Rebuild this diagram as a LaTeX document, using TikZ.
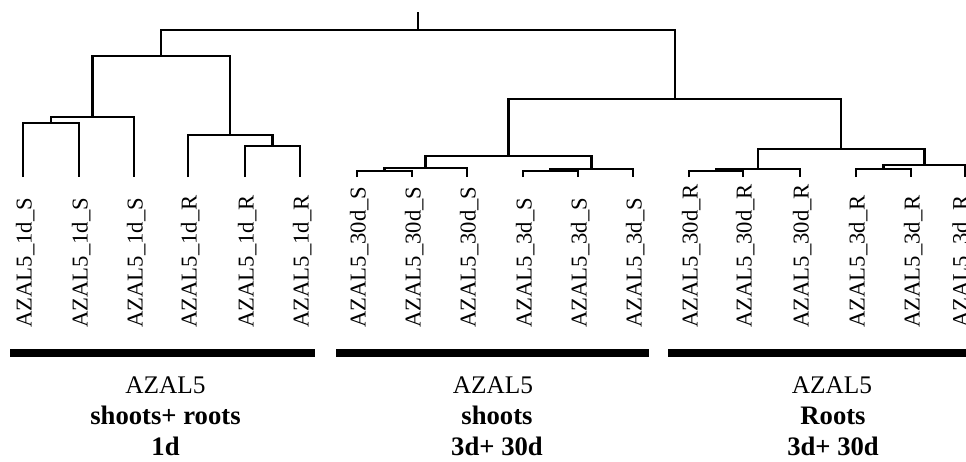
\documentclass[tikz,border=0pt]{standalone}
\usepackage{fontspec}
\setmainfont{Liberation Serif}
\begin{document}
\begin{tikzpicture}[x=0.75pt,y=-0.75pt,
  branch/.style={line width=2pt, line join=miter},
  leaflabel/.style={rotate=90, anchor=base west, inner sep=0pt,
                    font=\fontsize{17}{20}\selectfont},
  groupbar/.style={line width=6pt},
  grouptext/.style={anchor=base, inner sep=0pt, font=\fontsize{19}{23}\selectfont},
  groupbold/.style={anchor=base, inner sep=0pt, font=\fontsize{20}{24}\selectfont\bfseries}]
\useasboundingbox (0,0) rectangle (966,461);
\clip (0,0) rectangle (966,461);

% ---- leaf tips (bottom ends of the dendrogram) ----
\coordinate (a1) at (23,177);  \coordinate (a2) at (79,177);
\coordinate (a3) at (134,177); \coordinate (a4) at (188,177);
\coordinate (a5) at (245,177); \coordinate (a6) at (300,177);
\coordinate (b1) at (357,177); \coordinate (b2) at (412,177);
\coordinate (b3) at (467,177); \coordinate (b4) at (523,177);
\coordinate (b5) at (578,177); \coordinate (b6) at (633,177);
\coordinate (c1) at (689,177); \coordinate (c2) at (743,177);
\coordinate (c3) at (800,177); \coordinate (c4) at (856,177);
\coordinate (c5) at (911,177); \coordinate (c6) at (965,177);

% ---- merge points ----
\coordinate (a12)  at (51,123);
\coordinate (a123) at (92.5,117);
\coordinate (a56)  at (272.5,146);
\coordinate (a456) at (230,135);
\coordinate (aall) at (161,56);
\coordinate (b12)  at (384.5,171);
\coordinate (b123) at (425.7,168);
\coordinate (b45)  at (550.5,171);
\coordinate (b456) at (591.7,169);
\coordinate (ball) at (508.7,156);
\coordinate (c12)  at (716,171);
\coordinate (c123) at (758,169);
\coordinate (c45)  at (883.5,169);
\coordinate (c456) at (924.2,165);
\coordinate (call) at (841.1,149);
\coordinate (bc)   at (675,99);
\coordinate (root) at (418,30);
\coordinate (stem) at (418,12);

% ---- dendrogram ----
\draw[branch] (a1) |- (a12) -| (a2);
\draw[branch] (a12) |- (a123) -| (a3);
\draw[branch] (a5) |- (a56) -| (a6);
\draw[branch] (a4) |- (a456) -| (a56);
\draw[branch] (a123) |- (aall) -| (a456);

\draw[branch] (b1) |- (b12) -| (b2);
\draw[branch] (b12) |- (b123) -| (b3);
\draw[branch] (b4) |- (b45) -| (b5);
\draw[branch] (b45) |- (b456) -| (b6);
\draw[branch] (b123) |- (ball) -| (b456);

\draw[branch] (c1) |- (c12) -| (c2);
\draw[branch] (c12) |- (c123) -| (c3);
\draw[branch] (c4) |- (c45) -| (c5);
\draw[branch] (c45) |- (c456) -| (c6);
\draw[branch] (c123) |- (call) -| (c456);

\draw[branch] (ball) |- (bc) -| (call);
\draw[branch] (aall) |- (root) -| (bc);
\draw[branch] (root) -- (stem);

% ---- sample labels ----
\node[leaflabel] (ta1) at (31.5,328) {AZAL5\_1d\_S};
\node[leaflabel] (ta2) at (87.5,328) {AZAL5\_1d\_S};
\node[leaflabel] (ta3) at (142.5,328) {AZAL5\_1d\_S};
\node[leaflabel] (ta4) at (196.5,328) {AZAL5\_1d\_R};
\node[leaflabel] (ta5) at (253.5,328) {AZAL5\_1d\_R};
\node[leaflabel] (ta6) at (308.5,328) {AZAL5\_1d\_R};
\node[leaflabel] (tb1) at (365.5,328) {AZAL5\_30d\_S};
\node[leaflabel] (tb2) at (420.5,328) {AZAL5\_30d\_S};
\node[leaflabel] (tb3) at (475.5,328) {AZAL5\_30d\_S};
\node[leaflabel] (tb4) at (531.5,328) {AZAL5\_3d\_S};
\node[leaflabel] (tb5) at (586.5,328) {AZAL5\_3d\_S};
\node[leaflabel] (tb6) at (641.5,328) {AZAL5\_3d\_S};
\node[leaflabel] (tc1) at (697.5,328) {AZAL5\_30d\_R};
\node[leaflabel] (tc2) at (751.5,328) {AZAL5\_30d\_R};
\node[leaflabel] (tc3) at (808.5,328) {AZAL5\_30d\_R};
\node[leaflabel] (tc4) at (864.5,328) {AZAL5\_3d\_R};
\node[leaflabel] (tc5) at (919.5,328) {AZAL5\_3d\_R};
\node[leaflabel] (tc6) at (968,328) {AZAL5\_3d\_R};

% ---- group bars ----
\coordinate (g1l) at (10,353);  \coordinate (g1r) at (315,353);
\coordinate (g2l) at (336,353); \coordinate (g2r) at (649,353);
\coordinate (g3l) at (668,353); \coordinate (g3r) at (970,353);
\draw[groupbar] (g1l) -- (g1r);
\draw[groupbar] (g2l) -- (g2r);
\draw[groupbar] (g3l) -- (g3r);

% ---- group captions ----
\node[grouptext] (g1a) at (165.5,393) {AZAL5};
\node[groupbold] (g1b) at (165.5,424) {shoots+ roots};
\node[groupbold] (g1c) at (165.5,455) {1d};
\node[grouptext] (g2a) at (493,393) {AZAL5};
\node[groupbold] (g2b) at (497,424) {shoots};
\node[groupbold] (g2c) at (497,455) {3d+ 30d};
\node[grouptext] (g3a) at (832,393) {AZAL5};
\node[groupbold] (g3b) at (833,424) {Roots};
\node[groupbold] (g3c) at (833,455) {3d+ 30d};
\end{tikzpicture}
\end{document}
